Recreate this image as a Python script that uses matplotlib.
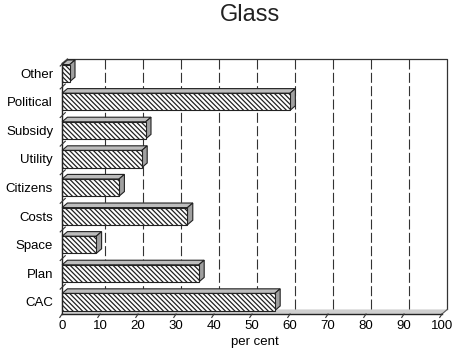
import numpy as np
import matplotlib.pyplot as plt
from matplotlib.patches import Polygon

plt.rcParams['font.family'] = ['Liberation Sans', 'DejaVu Sans']
plt.rcParams['hatch.linewidth'] = 0.9

TITLE = 'Glass'
CATEGORIES = ['CAC', 'Plan', 'Space', 'Costs', 'Citizens',
              'Utility', 'Subsidy', 'Political', 'Other']
VALUES = [56, 36, 9, 33, 15, 21, 22, 60, 2]
XTICKS = [0, 10, 20, 30, 40, 50, 60, 70, 80, 90, 100]
XLABEL = 'per cent'

# fake 3d depth, in data units
DX = 1.4
DY = 0.16
BAR_H = 0.6
FLOOR_Y = -0.42
TOP_Y = 8.5


def draw_bar(ax, y, v):
    lo, hi = y - BAR_H / 2, y + BAR_H / 2
    top = Polygon([(0, hi), (v, hi), (v + DX, hi + DY), (DX, hi + DY)],
                  closed=True, facecolor='#bdbdbd', edgecolor='#222222', lw=0.8, zorder=4)
    side = Polygon([(v, lo), (v + DX, lo + DY), (v + DX, hi + DY), (v, hi)],
                   closed=True, facecolor='#a0a0a0', edgecolor='#222222', lw=0.8, zorder=4)
    ax.add_patch(top)
    ax.add_patch(side)
    ax.bar(v / 2, BAR_H, width=v, bottom=lo, color='white', edgecolor='#222222',
           hatch='\\' * 7, lw=0.8, zorder=5)


def main():
    fig = plt.figure(figsize=(4.6, 3.6), dpi=100)
    ax = fig.add_axes([60 / 460, 1 - 316 / 360, 390 / 460, 260 / 360])
    ax.set_xlim(-0.55, 102.1)
    ax.set_ylim(-0.49, 8.6)
    for s in ax.spines.values():
        s.set_visible(False)

    # floor
    ax.add_patch(Polygon([(0, FLOOR_Y), (100, FLOOR_Y), (100 + DX, FLOOR_Y + DY), (DX, FLOOR_Y + DY)],
                         closed=True, facecolor='#cfcfcf', edgecolor='none', zorder=1))
    # back wall grid
    for g in XTICKS[1:-1]:
        ax.plot([g + DX, g + DX], [FLOOR_Y + DY, TOP_Y], color='#333333', lw=0.8,
                ls=(0, (9, 3)), zorder=2)
    ax.plot([DX, 100 + DX, 100 + DX], [TOP_Y, TOP_Y, FLOOR_Y + DY], color='#333333', lw=0.9, zorder=2)
    ax.plot([0, DX], [TOP_Y - DY, TOP_Y], color='#555555', lw=0.8, zorder=2)
    ax.plot([0, 0], [FLOOR_Y, TOP_Y - DY], color='#222222', lw=1.0, zorder=6)
    ax.plot([0, 100], [FLOOR_Y, FLOOR_Y], color='#222222', lw=1.0, zorder=6)
    ax.plot([100, 100 + DX], [FLOOR_Y, FLOOR_Y + DY], color='#555555', lw=0.8, zorder=6)

    ys = np.arange(len(CATEGORIES))
    for y, v in zip(ys, VALUES):
        draw_bar(ax, y, v)

    # small slanted ticks
    for b in ys[:-1] + 0.5:
        ax.plot([-0.5, DX * 0.6], [b - 0.05, b + 0.12], color='#333333', lw=0.8, zorder=6, clip_on=False)
    ax.plot([-0.5, DX * 0.6], [TOP_Y - 0.25, TOP_Y - 0.08], color='#333333', lw=0.8, zorder=6, clip_on=False)
    for g in XTICKS:
        ax.plot([g - 0.6, g], [FLOOR_Y - 0.12, FLOOR_Y], color='#333333', lw=0.8, zorder=6, clip_on=False)

    ax.set_yticks(ys)
    ax.set_yticklabels(CATEGORIES, fontsize=9.5)
    ax.set_xticks(XTICKS)
    ax.set_xticklabels([str(t) for t in XTICKS], fontsize=9.5)
    ax.tick_params(length=0)
    ax.tick_params(axis='y', pad=5)
    ax.tick_params(axis='x', pad=3)
    ax.set_xlabel(XLABEL, fontsize=9.5, labelpad=3)

    fig.text(250 / 460, 1 - 21 / 360, TITLE, fontsize=17, ha='center', va='baseline', color='#222222')

    fig.savefig('out.png', dpi=100)


if __name__ == '__main__':
    main()
